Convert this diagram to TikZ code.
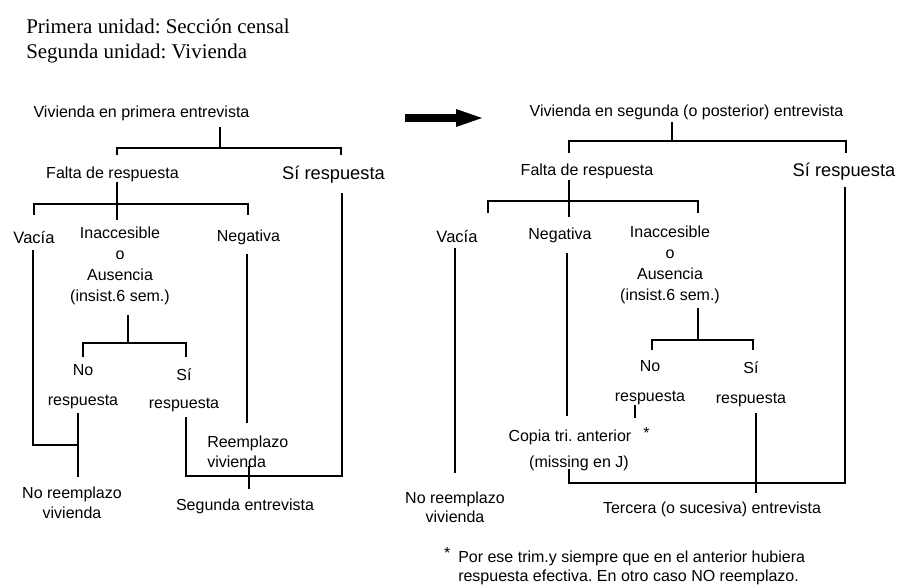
\documentclass[tikz,border=0pt]{standalone}
\usepackage{fontspec}
\setmainfont{Liberation Sans}
\newfontfamily\titleface{Liberation Serif}
\frenchspacing
\begin{document}
\begin{tikzpicture}[x=0.75pt,y=-0.75pt,
  lbl/.style={inner sep=0pt, align=center, font=\fontsize{12}{15}\selectfont},
  big/.style={font=\fontsize{13.7}{16}\selectfont},
  conn/.style={line width=2pt, line join=miter},
  fat/.style={fill=black}]
\useasboundingbox (0,0) rectangle (906,585);

% ---------- title ----------
\node[inner sep=0pt, anchor=west, align=left, font={\titleface\fontsize{15.7}{18.75}\selectfont}] (title) at (26,40.5)
  {Primera unidad: Sección censal\\Segunda unidad: Vivienda};

% ---------- left tree ----------
\node[lbl] (L0) at (141.5,113) {Vivienda en primera entrevista};
\node[lbl] (L1) at (112.5,174) {Falta de respuesta};
\node[lbl,big] (L2) at (333.5,175) {Sí respuesta};
\node[lbl,font=\fontsize{12.4}{15}\selectfont] (L3) at (34,237) {Vacía};
\node[lbl,font=\fontsize{12}{15.75}\selectfont] (L4) at (120,266) {Inaccesible\\o\\Ausencia\\(insist.6 sem.)};
\node[lbl] (L5) at (248.5,237) {Negativa};
\node[lbl,font=\fontsize{12}{22.5}\selectfont] (L6) at (83,387) {No\\respuesta};
\node[lbl,font=\fontsize{12}{21}\selectfont] (L7) at (184,390) {Sí\\respuesta};
\node[lbl,align=left,anchor=west] (L8) at (207,452) {Reemplazo\\vivienda};
\node[lbl] (L9) at (72,503) {No reemplazo\\vivienda};
\node[lbl] (L10) at (245,506) {Segunda entrevista};

% left connectors
\coordinate (la0) at (220,127); \coordinate (la1) at (220,148);
\coordinate (la2) at (117,155); \coordinate (la3) at (117,148);
\coordinate (la4) at (341,148); \coordinate (la5) at (341,155);
\draw[conn] (la0) -- (la1);
\draw[conn] (la2) -- (la3) -- (la4) -- (la5);

\coordinate (lb0) at (117,182); \coordinate (lb1) at (117,220);
\coordinate (lb2) at (34,215); \coordinate (lb3) at (34,204);
\coordinate (lb4) at (248,204); \coordinate (lb5) at (248,215);
\draw[conn] (lb0) -- (lb1);
\draw[conn] (lb2) -- (lb3) -- (lb4) -- (lb5);

\coordinate (lc0) at (33,250); \coordinate (lc1) at (33,445); \coordinate (lc2) at (78,445);
\draw[conn] (lc0) -- (lc1) -- (lc2);

\coordinate (ld0) at (247,254); \coordinate (ld1) at (247,423);
\draw[conn] (ld0) -- (ld1);

\coordinate (le0) at (342,193); \coordinate (le1) at (342,476);
\coordinate (le2) at (186,476); \coordinate (le3) at (186,417);
\draw[conn] (le0) -- (le1) -- (le2) -- (le3);

\coordinate (lf0) at (128,315); \coordinate (lf1) at (128,343);
\coordinate (lf2) at (83,357); \coordinate (lf3) at (83,343);
\coordinate (lf4) at (186,343); \coordinate (lf5) at (186,357);
\draw[conn] (lf0) -- (lf1);
\draw[conn] (lf2) -- (lf3) -- (lf4) -- (lf5);

\coordinate (lg0) at (78,413); \coordinate (lg1) at (78,477);
\draw[conn] (lg0) -- (lg1);

\coordinate (lh0) at (249,466); \coordinate (lh1) at (249,489);
\draw[conn] (lh0) -- (lh1);

% ---------- arrow ----------
\fill[fat] (405,114) rectangle (458,122);
\fill[fat] (456,109) -- (482,118) -- (456,127) -- cycle;

% ---------- right tree ----------
\node[lbl] (R0) at (686.5,112) {Vivienda en segunda (o posterior) entrevista};
\node[lbl] (R1) at (587,171) {Falta de respuesta};
\node[lbl,big] (R2) at (844,172) {Sí respuesta};
\node[lbl,font=\fontsize{12.4}{15}\selectfont] (R3) at (457,236) {Vacía};
\node[lbl] (R4) at (560,235) {Negativa};
\node[lbl,font=\fontsize{12}{15.75}\selectfont] (R5) at (670,265) {Inaccesible\\o\\Ausencia\\(insist.6 sem.)};
\node[lbl,font=\fontsize{12}{22.5}\selectfont] (R6) at (650,383) {No\\respuesta};
\node[lbl,font=\fontsize{12}{22.5}\selectfont] (R7) at (751,384) {Sí\\respuesta};
\node[lbl,font=\fontsize{12}{19.5}\selectfont] (R8) at (579,449) {Copia tri. anterior\hspace{9pt}\raisebox{2pt}{*}\\(missing en J)};
\node[lbl] (R9) at (712,509) {Tercera (o sucesiva) entrevista};
\node[lbl,font=\fontsize{12}{14.25}\selectfont] (R10) at (455,507.5) {No reemplazo\\vivienda};
\node[lbl,align=left,anchor=north west,font=\fontsize{12}{14.25}\selectfont] (FN) at (458,547)
  {\llap{\raisebox{3pt}{*}\hspace{6pt}}Por ese trim.y siempre que en el anterior hubiera\\respuesta efectiva. En otro caso NO reemplazo.};

% right connectors
\coordinate (ra0) at (672,122); \coordinate (ra1) at (672,141);
\coordinate (ra2) at (569,153); \coordinate (ra3) at (569,141);
\coordinate (ra4) at (846,141); \coordinate (ra5) at (846,153);
\draw[conn] (ra0) -- (ra1);
\draw[conn] (ra2) -- (ra3) -- (ra4) -- (ra5);

\coordinate (rb0) at (569,180); \coordinate (rb1) at (569,217);
\coordinate (rb2) at (488,213); \coordinate (rb3) at (488,201);
\coordinate (rb4) at (698,201); \coordinate (rb5) at (698,213);
\draw[conn] (rb0) -- (rb1);
\draw[conn] (rb2) -- (rb3) -- (rb4) -- (rb5);

\coordinate (rc0) at (455,248); \coordinate (rc1) at (455,473);
\draw[conn] (rc0) -- (rc1);

\coordinate (rd0) at (567,253); \coordinate (rd1) at (567,416);
\draw[conn] (rd0) -- (rd1);

\coordinate (re0) at (845,187); \coordinate (re1) at (845,483);
\coordinate (re2) at (569,483); \coordinate (re3) at (569,469);
\draw[conn] (re0) -- (re1) -- (re2) -- (re3);

\coordinate (rf0) at (698,308); \coordinate (rf1) at (698,340);
\coordinate (rf2) at (652,350); \coordinate (rf3) at (652,340);
\coordinate (rf4) at (753,340); \coordinate (rf5) at (753,350);
\draw[conn] (rf0) -- (rf1);
\draw[conn] (rf2) -- (rf3) -- (rf4) -- (rf5);

\coordinate (rg0) at (635,405); \coordinate (rg1) at (635,418);
\draw[conn] (rg0) -- (rg1);

\coordinate (rh0) at (756,413); \coordinate (rh1) at (756,493);
\draw[conn] (rh0) -- (rh1);
\end{tikzpicture}
\end{document}
